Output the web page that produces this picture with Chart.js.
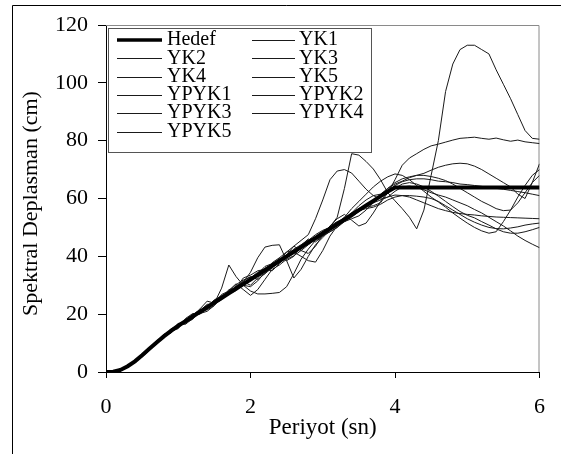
<!DOCTYPE html>
<html><head><meta charset="utf-8">
<script src="https://cdn.jsdelivr.net/npm/chart.js@4.4.1/dist/chart.umd.min.js"></script>
<style>html,body{margin:0;padding:0;background:#fff;}canvas{display:block;}</style>
</head><body>
<canvas id="c" width="561" height="454"></canvas>
<script>
const periods = [0,0.1,0.2,0.3,0.4,0.5,0.6,0.7,0.8,0.9,1.0,1.1,1.2,1.3,1.4,1.5,1.6,1.7,1.8,1.9,2.0,2.1,2.2,2.3,2.4,2.5,2.6,2.7,2.8,2.9,3.0,3.1,3.2,3.3,3.4,3.5,3.6,3.7,3.8,3.9,4.0,4.1,4.2,4.3,4.4,4.5,4.6,4.7,4.8,4.9,5.0,5.1,5.2,5.3,5.4,5.5,5.6,5.7,5.8,5.9,6.0];
const xTicks = [0,2,4,6];
const yTicks = [0,20,40,60,80,100,120];
const seriesLabels = ['Hedef','YK1','YK2','YK3','YK4','YK5','YPYK1','YPYK2','YPYK3','YPYK4','YPYK5'];
const xTitle = 'Periyot (sn)';
const yTitle = 'Spektral Deplasman (cm)';

const hedef = [0,0.1,0.7,2.0,3.7,5.8,8.0,10.2,12.3,14.2,
 16.0,17.6,19.2,20.8,22.4,24.0,25.6,27.2,28.8,30.4,
 32.0,33.6,35.2,36.8,38.4,40.0,41.6,43.2,44.8,46.4,
 48.0,49.6,51.2,52.8,54.4,56.0,57.6,59.2,60.8,62.4,
 63.8,63.8,63.8,63.8,63.8,63.8,63.8,63.8,63.8,63.8,
 63.8,63.8,63.8,63.8,63.8,63.8,63.8,63.8,63.8,63.8,63.8];
const yk1 = [0,0.1,0.6,1.9,3.6,5.9,8.3,10.5,12.0,14.8,
 16.3,17.0,19.8,21.5,22.0,24.6,26.0,27.9,29.5,31.2,
 30.0,32.5,35.8,37.5,39.0,40.2,42.5,44.0,45.6,46.5,
 48.5,50.2,53.5,63.5,75.5,75.0,72.8,70.2,66.5,62.0,
 59.2,56.5,53.5,49.5,56.0,68.0,80.0,97.0,106.5,111.5,
 113.0,113.0,111.5,110.0,104.5,99.5,94.5,89.0,83.5,80.8,80.5];
const yk2 = [0,0.1,0.6,1.7,3.3,5.5,8.2,10.4,12.8,13.8,
 15.5,18.2,19.0,21.2,23.4,23.5,25.0,28.5,29.0,31.5,
 33.0,32.0,34.0,37.8,39.5,38.5,40.0,43.8,46.0,45.0,
 47.0,50.5,52.0,53.0,55.0,56.5,57.0,57.5,58.5,62.0,
 66.5,71.5,74.0,75.5,77.0,78.2,78.8,79.5,80.2,80.8,
 81.0,81.2,80.8,80.5,80.9,80.3,79.8,80.2,79.6,79.3,79.0];
const yk3 = [0,0.1,0.7,1.9,3.6,5.7,7.6,9.8,12.1,15.0,
 15.2,17.9,20.0,20.4,22.8,24.5,25.2,27.0,29.8,30.5,
 31.5,34.0,36.5,37.5,38.5,41.5,43.5,45.5,47.5,53.0,
 59.5,66.5,69.5,70.0,68.8,66.0,63.2,61.0,59.8,60.5,
 62.5,64.0,64.3,63.8,63.0,62.0,61.2,60.5,59.5,58.5,
 57.5,56.2,55.0,53.5,52.0,50.5,48.8,47.0,45.5,44.2,43.0];
const yk4 = [0,0.1,0.6,1.8,3.2,5.6,8.0,9.7,12.0,14.0,
 16.8,16.5,18.5,21.0,21.5,23.0,25.8,27.5,29.5,30.0,
 28.0,27.0,27.0,27.2,27.5,29.5,34.0,39.0,42.5,45.5,
 47.0,48.5,50.0,52.5,55.0,57.5,59.5,61.0,61.5,63.5,
 65.0,66.0,67.2,68.0,68.7,69.8,70.8,71.5,72.0,72.2,
 72.0,71.2,70.0,68.5,67.0,65.5,64.0,61.5,60.0,65.5,72.0];
const yk5 = [0,0.1,0.5,1.7,3.4,5.4,8.0,10.8,12.5,14.0,
 16.5,17.2,19.5,21.8,24.5,23.8,29.0,37.0,33.0,30.0,
 29.5,31.5,34.5,36.0,39.5,41.5,42.0,42.5,44.5,46.0,
 47.5,49.0,51.5,53.5,56.5,59.0,61.5,64.0,66.0,67.5,
 68.5,68.0,66.5,64.5,62.5,60.5,58.8,57.0,55.0,53.2,
 51.5,50.0,48.8,48.0,48.5,52.0,56.0,60.5,64.5,68.0,70.0];
const ypyk1 = [0,0.1,0.6,1.8,3.5,5.2,7.5,10.4,12.8,14.6,
 15.8,18.0,19.0,20.5,22.0,24.2,26.0,27.0,28.2,31.0,
 34.5,39.5,43.2,43.8,44.0,38.5,32.5,35.5,40.0,44.0,
 46.5,49.0,50.5,52.0,53.0,54.0,56.0,58.5,61.0,63.5,
 65.5,66.8,67.5,68.0,68.0,67.6,67.0,66.2,65.0,63.5,
 62.0,60.5,59.0,57.8,56.5,55.8,56.0,58.5,62.0,65.5,68.0];
const ypyk2 = [0,0.1,0.6,1.8,3.4,5.6,7.8,9.9,11.8,14.9,
 15.9,16.8,19.6,20.0,21.8,24.8,26.5,26.8,29.0,32.5,
 33.5,35.0,35.5,35.0,37.5,40.5,43.5,42.0,41.0,43.5,
 47.5,50.5,53.0,54.5,52.5,50.5,51.5,55.0,59.0,62.5,
 64.5,65.8,66.5,66.8,66.8,66.5,66.0,65.8,65.5,65.0,
 64.8,64.5,64.2,63.8,63.5,63.2,62.8,62.4,62.0,61.5,61.0];
const ypyk3 = [0,0.1,0.6,1.7,3.3,5.3,7.5,10.1,13.0,14.2,
 15.4,17.5,18.8,20.9,22.9,24.0,25.2,27.8,28.5,30.0,
 32.5,34.5,35.8,37.0,38.8,40.5,41.5,40.0,38.5,38.0,
 42.0,47.0,50.5,53.0,54.8,56.5,57.5,58.5,59.5,60.5,
 61.2,61.0,60.5,59.5,58.5,57.5,56.5,55.8,55.2,54.8,
 54.5,54.3,54.0,53.8,53.6,53.5,53.4,53.3,53.2,53.1,53.0];
const ypyk4 = [0,0.1,0.6,1.9,3.6,5.5,8.3,10.0,12.4,13.5,
 16.8,17.0,18.2,21.4,22.5,25.0,26.2,28.2,30.5,28.5,
 26.5,28.5,32.0,35.5,37.0,39.0,40.2,42.0,44.0,45.8,
 47.2,48.5,50.0,52.0,53.5,55.5,57.0,58.5,60.5,62.0,
 63.5,65.0,65.5,65.0,64.0,62.5,60.8,59.0,57.2,55.5,
 54.2,53.3,52.0,50.8,49.5,48.5,48.0,48.0,48.5,49.2,50.0];
const ypyk5 = [0,0.1,0.6,1.8,3.4,5.4,7.9,10.6,12.2,14.1,
 15.0,18.5,20.2,20.2,21.0,23.0,26.8,28.0,30.2,31.8,
 32.8,33.0,34.0,36.0,37.8,39.5,41.0,42.8,45.5,47.5,
 49.0,50.0,51.0,52.0,54.0,55.8,56.5,57.0,58.0,59.5,
 60.5,61.0,61.0,60.8,60.5,60.0,59.0,57.5,56.0,54.5,
 53.0,51.8,50.8,50.0,49.6,49.5,49.8,50.2,50.8,51.2,51.5];

const seriesValues = [hedef,yk1,yk2,yk3,yk4,yk5,ypyk1,ypyk2,ypyk3,ypyk4,ypyk5];
const FONT = "'Liberation Serif', 'Times New Roman', serif";

const datasets = seriesLabels.map((lab, k) => ({
  label: lab,
  data: periods.map((t, i) => ({x: t, y: seriesValues[k][i]})),
  borderColor: k === 0 ? '#000' : '#1a1a1a',
  borderWidth: k === 0 ? 4 : 1,
  pointRadius: 0,
  tension: 0,
  fill: false
}));

const framePlugin = {
  id: 'frame',
  beforeDraw(chart) {
    const ctx = chart.ctx;
    ctx.save();
    ctx.fillStyle = '#fff';
    ctx.fillRect(0, 0, chart.width, chart.height);
    ctx.strokeStyle = '#000';
    ctx.lineWidth = 1;
    ctx.beginPath();
    ctx.moveTo(12.5, chart.height);
    ctx.lineTo(12.5, 5.5);
    ctx.lineTo(chart.width, 5.5);
    ctx.stroke();
    ctx.restore();
  },
  beforeDatasetsDraw(chart) {
    const a = chart.chartArea, ctx = chart.ctx;
    ctx.save();
    ctx.strokeStyle = '#8a8a8a';
    ctx.lineWidth = 1;
    ctx.beginPath();
    ctx.moveTo(a.left, a.top + 0.5);
    ctx.lineTo(a.right - 0.5, a.top + 0.5);
    ctx.lineTo(a.right - 0.5, a.bottom);
    ctx.stroke();
    // y axis title
    ctx.fillStyle = '#000';
    ctx.font = '22px ' + FONT;
    ctx.textAlign = 'center';
    ctx.textBaseline = 'middle';
    ctx.translate(31, (a.top + a.bottom) / 2 + 5);
    ctx.rotate(-Math.PI / 2);
    ctx.fillText(yTitle, 0, 0);
    ctx.restore();
  },
  afterDatasetsDraw(chart) {
    const a = chart.chartArea, ctx = chart.ctx;
    const bx = a.left + 2.5, by = a.top + 3.5, bw = 263, bh = 124;
    ctx.save();
    ctx.fillStyle = '#fff';
    ctx.fillRect(bx, by, bw, bh);
    ctx.strokeStyle = '#555';
    ctx.lineWidth = 1;
    ctx.strokeRect(bx, by, bw, bh);
    ctx.font = '20px ' + FONT;
    ctx.textBaseline = 'middle';
    ctx.textAlign = 'left';
    ctx.fillStyle = '#000';
    chart.data.datasets.forEach((ds, k) => {
      const row = Math.floor(k / 2), col = k % 2;
      const y = a.top + 15 + row * 18.3;
      const x0 = a.left + (col === 0 ? 11 : 146);
      const x1 = a.left + (col === 0 ? 56 : 189);
      const tx = a.left + (col === 0 ? 61 : 193);
      ctx.strokeStyle = ds.borderColor;
      ctx.lineWidth = k === 0 ? 3.5 : 1;
      ctx.beginPath();
      ctx.moveTo(x0, Math.round(y) + (k === 0 ? 0 : 0.5));
      ctx.lineTo(x1, Math.round(y) + (k === 0 ? 0 : 0.5));
      ctx.stroke();
      ctx.fillText(ds.label, tx, y);
    });
    ctx.restore();
  }
};

new Chart(document.getElementById('c'), {
  type: 'line',
  data: { datasets },
  options: {
    responsive: false,
    animation: false,
    layout: { padding: { left: 0, top: 25, right: 21, bottom: 0 } },
    plugins: { legend: { display: false }, tooltip: { enabled: false } },
    scales: {
      x: {
        type: 'linear', min: 0, max: 6,
        afterBuildTicks: s => { s.ticks = xTicks.map(v => ({ value: v })); },
        afterFit: s => { s.height = 82; },
        grid: { drawOnChartArea: false, drawTicks: true, tickLength: 6, color: '#000' },
        border: { display: true, color: '#000', width: 1 },
        ticks: { color: '#000', font: { family: FONT, size: 22 }, padding: 16, maxRotation: 0 },
        title: { display: true, text: xTitle, color: '#000', font: { family: FONT, size: 23 }, padding: { top: 0, bottom: 12 } }
      },
      y: {
        type: 'linear', min: 0, max: 120,
        afterBuildTicks: s => { s.ticks = yTicks.map(v => ({ value: v })); },
        afterFit: s => { s.width = 106; },
        grid: { drawOnChartArea: false, drawTicks: true, tickLength: 8, color: '#000' },
        border: { display: true, color: '#000', width: 1 },
        ticks: { color: '#000', font: { family: FONT, size: 22 }, padding: 10 },
        title: { display: false }
      }
    }
  },
  plugins: [framePlugin]
});
</script>
</body></html>
